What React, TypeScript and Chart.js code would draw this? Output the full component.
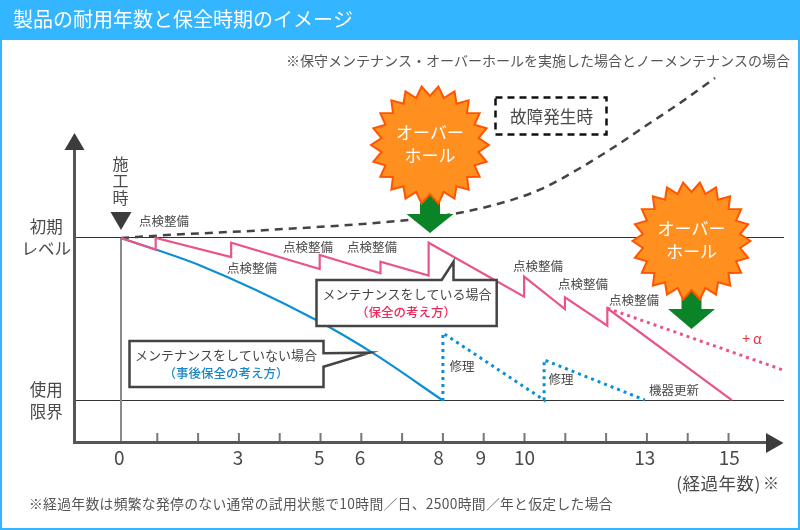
import React, { useEffect, useRef } from "react";
import { Chart, registerables } from "chart.js";

Chart.register(...registerables);

// ---- data (years elapsed, performance level: 100 = initial level, 0 = limit of use)
const maintainedYears = [0.11, 0.96, 0.96, 2.81, 2.81, 4.98, 4.98, 6.47, 6.47, 7.65, 7.65, 9.99, 9.99, 10.99, 10.99, 12.03, 12.03, 15.08];
const maintainedLevels = [100, 92.8, 100, 88.3, 97.1, 81, 89.6, 78.3, 85.5, 76.9, 97.1, 64, 76.3, 56.4, 63.6, 46.2, 56.9, 0.6];
const extendedYears = [12.03, 16.34];
const extendedLevels = [56.9, 19];
const unmaintainedYears = [0.11, 2.05, 4.87, 6.26, 8.0];
const unmaintainedLevels = [100, 83.1, 50, 29.8, 0.3];
const repairYears = [8, 8, 10.48, 10.48, 12.95];
const repairLevels = [0, 41.7, 0.6, 25.2, 0.6];
const failureYears = [0.11, 1.23, 3.69, 6.95, 8.25, 9.64, 10.45, 11.28, 12.27, 13, 13.74, 14.67];
const failureLevels = [100, 101.8, 104.9, 110.6, 114.7, 123, 130.5, 141.7, 157, 169.3, 181.6, 198.2];
const startYear = [0.11, 0.11];
const startLevel = [100, -25.7];
const xTickLabels = ["0", "3", "5", "6", "8", "9", "10", "13", "15"];
const xTickValues = [0.07, 2.98, 4.97, 5.97, 7.89, 8.93, 10, 12.95, 15.02];
const minorTickYears = [1, 2, 3, 4, 5, 6, 7, 8, 9, 10, 11, 12, 13, 14, 15];
const yTickValues = [0, 100];
const yTickLabels = [["使用", "限界"], ["初期", "レベル"]];

const toPoints = (xs: number[], ys: number[]) => xs.map((x, i) => ({ x, y: ys[i] }));

// ---- styles and decoration layout
const FONT = '"Noto Sans CJK JP", "Noto Sans", sans-serif';
const BAND = "#33b5ff";
const DARK = "#3c3c3c";
const AXIS = "#555555";
const TEXT = "#4a4a4a";
const PINK = "#ea5588";
const BLUE = "#0a8fd6";

const inspectionLabels: [string, number, number][] = [
  ["点検整備", 164, 221], ["点検整備", 308, 247], ["点検整備", 372, 247], ["点検整備", 252, 268],
  ["点検整備", 538, 266], ["点検整備", 583, 284], ["点検整備", 634, 300],
  ["修理", 462, 366], ["修理", 561, 379], ["機器更新", 674, 390],
];

function text(ctx: CanvasRenderingContext2D, s: string, x: number, y: number, size: number, color: string, align: CanvasTextAlign = "center", weight = "normal") {
  ctx.font = `${weight} ${size}px ${FONT}`;
  ctx.fillStyle = color;
  ctx.textAlign = align;
  ctx.textBaseline = "middle";
  ctx.fillText(s, x, y);
}

function drawStar(ctx: CanvasRenderingContext2D, cx: number, cy: number, label: string[]) {
  const n = 22, R = 59, r = 49;
  ctx.beginPath();
  for (let i = 0; i < n * 2; i++) {
    const a = -Math.PI / 2 + (i * Math.PI) / n;
    const rad = i % 2 === 0 ? r : R;
    const px = cx + rad * Math.cos(a);
    const py = cy + rad * Math.sin(a);
    if (i === 0) ctx.moveTo(px, py);
    else ctx.lineTo(px, py);
  }
  ctx.closePath();
  ctx.fillStyle = "#ff9020";
  ctx.fill();
  ctx.strokeStyle = "#ff5500";
  ctx.lineWidth = 2;
  ctx.lineJoin = "miter";
  ctx.stroke();
  text(ctx, label[0], cx, cy - 12, 17, "#ffffff");
  text(ctx, label[1], cx, cy + 11, 17, "#ffffff");
}

function drawDownArrow(ctx: CanvasRenderingContext2D, cx: number, top: number, neck: number, tip: number) {
  ctx.beginPath();
  ctx.moveTo(cx - 10, top);
  ctx.lineTo(cx + 10, top);
  ctx.lineTo(cx + 10, neck);
  ctx.lineTo(cx + 23.5, neck);
  ctx.lineTo(cx, tip);
  ctx.lineTo(cx - 23.5, neck);
  ctx.lineTo(cx - 10, neck);
  ctx.closePath();
  ctx.fillStyle = "#0b8428";
  ctx.fill();
}

function poly(ctx: CanvasRenderingContext2D, pts: number[][]) {
  ctx.beginPath();
  pts.forEach((p, i) => (i === 0 ? ctx.moveTo(p[0], p[1]) : ctx.lineTo(p[0], p[1])));
  ctx.closePath();
}

function triangle(ctx: CanvasRenderingContext2D, pts: number[][]) {
  poly(ctx, pts);
  ctx.fillStyle = DARK;
  ctx.fill();
}

const decoration = {
  id: "decoration",
  beforeDatasetsDraw(chart: any) {
    const ctx: CanvasRenderingContext2D = chart.ctx;
    const x = chart.scales.x;
    const base = chart.chartArea.bottom;
    ctx.save();
    // minor tick marks rising from the time axis
    ctx.strokeStyle = "#777777";
    ctx.lineWidth = 2;
    minorTickYears.forEach((v) => {
      const px = x.getPixelForValue(v);
      ctx.beginPath();
      ctx.moveTo(px, base);
      ctx.lineTo(px, base - 10);
      ctx.stroke();
    });
    ctx.restore();
  },
  afterDatasetsDraw(chart: any) {
    const ctx: CanvasRenderingContext2D = chart.ctx;
    const { chartArea } = chart;
    const axisX = chartArea.left + 0.5;
    const axisY = chartArea.bottom - 0.5;
    ctx.save();

    // axes and arrow heads
    ctx.strokeStyle = AXIS;
    ctx.lineWidth = 3;
    ctx.lineJoin = "miter";
    ctx.beginPath();
    ctx.moveTo(axisX, 148);
    ctx.lineTo(axisX, axisY);
    ctx.lineTo(768, axisY);
    ctx.stroke();
    triangle(ctx, [[74.5, 133], [84.5, 150], [64.5, 150]]);
    triangle(ctx, [[783.5, 443], [766, 433], [766, 453]]);

    // start marker
    triangle(ctx, [[110.5, 212], [131.5, 212], [121, 230]]);
    ["施", "工", "時"].forEach((c, i) => text(ctx, c, 120.5, 164 + i * 17, 16, TEXT));

    // green arrows, then bursts
    drawDownArrow(ctx, 430, 190, 214, 233);
    drawDownArrow(ctx, 691.5, 285, 309, 329);
    drawStar(ctx, 430, 145, ["オーバー", "ホール"]);
    drawStar(ctx, 691.5, 241, ["オーバー", "ホール"]);

    // dashed box
    ctx.setLineDash([7, 5]);
    ctx.strokeStyle = "#111111";
    ctx.lineWidth = 2.5;
    ctx.strokeRect(495.5, 97.5, 111, 37);
    ctx.setLineDash([]);
    text(ctx, "故障発生時", 551.5, 117, 16.6, TEXT);

    // call-outs
    ctx.lineWidth = 2.5;
    ctx.strokeStyle = "#444444";
    poly(ctx, [[316.5, 280], [441.7, 280], [453.5, 261.7], [453.5, 280], [496.7, 280], [496.7, 326], [316.5, 326]]);
    ctx.fillStyle = "#ffffff";
    ctx.fill();
    ctx.stroke();
    text(ctx, "メンテナンスをしている場合", 407, 294, 13, "#444444");
    text(ctx, "（保全の考え方）", 406, 312, 12.5, "#f0285a", "center", "500");

    poly(ctx, [[129.5, 341], [323.5, 341], [323.5, 353.3], [370, 352.7], [323.5, 366.7], [323.5, 387], [129.5, 387]]);
    ctx.fillStyle = "#ffffff";
    ctx.fill();
    ctx.stroke();
    text(ctx, "メンテナンスをしていない場合", 226, 355, 13, "#444444");
    text(ctx, "（事後保全の考え方）", 226, 373, 12.5, "#1a86c8", "center", "500");

    // small labels
    inspectionLabels.forEach(([s, px, py]) => text(ctx, s, px, py, 12.5, TEXT));
    text(ctx, "+ α", 752, 339, 14, "#f03040");

    // page frame, title and notes
    ctx.fillStyle = BAND;
    ctx.fillRect(0, 0, 800, 40);
    ctx.fillRect(0, 0, 2, 530);
    ctx.fillRect(798, 0, 2, 530);
    ctx.fillRect(0, 528, 800, 2);
    text(ctx, "製品の耐用年数と保全時期のイメージ", 13, 19, 20, "#ffffff", "left");
    text(ctx, "※保守メンテナンス・オーバーホールを実施した場合とノーメンテナンスの場合", 790, 61, 14, "#555555", "right");
    (ctx as any).letterSpacing = "0.5px";
    text(ctx, "(経過年数)", 761, 483, 17.5, TEXT, "right");
    (ctx as any).letterSpacing = "0px";
    text(ctx, "※", 779, 483, 16, TEXT, "right");
    (ctx as any).letterSpacing = "0.31px";
    text(ctx, "※経過年数は頻繁な発停のない通常の試用状態で10時間／日、2500時間／年と仮定した場合", 29, 504, 13.8, "#555555", "left");
    (ctx as any).letterSpacing = "0px";
    ctx.restore();
  },
};

export default function App() {
  const ref = useRef<HTMLCanvasElement>(null);
  useEffect(() => {
    document.body.style.margin = "0";
    document.body.style.background = "#ffffff";
    const line = (label: string, xs: number[], ys: number[], color: string, width: number, extra: object = {}) => ({
      label,
      data: toPoints(xs, ys),
      borderColor: color,
      borderWidth: width,
      pointRadius: 0,
      showLine: true,
      fill: false,
      ...extra,
    });
    const chart = new Chart(ref.current as HTMLCanvasElement, {
      type: "scatter",
      data: {
        datasets: [
          line("メンテナンスをしている場合", maintainedYears, maintainedLevels, PINK, 2.2),
          line("オーバーホール後", extendedYears, extendedLevels, PINK, 3, { borderDash: [3, 4] }),
          line("メンテナンスをしていない場合", unmaintainedYears, unmaintainedLevels, BLUE, 2.2, { cubicInterpolationMode: "monotone" }),
          line("修理", repairYears, repairLevels, BLUE, 3, { borderDash: [3, 4] }),
          line("故障発生時", failureYears, failureLevels, "#444444", 2.5, { borderDash: [8, 6], cubicInterpolationMode: "monotone" }),
          line("施工時", startYear, startLevel, "#8a8a8a", 2),
        ] as any,
      },
      options: {
        animation: false,
        responsive: false,
        devicePixelRatio: 1,
        layout: { padding: { left: 20, right: 16, top: 41, bottom: 0 } },
        plugins: { legend: { display: false }, tooltip: { enabled: false } },
        scales: {
          x: {
            type: "linear",
            min: -1.0417,
            max: 16.36,
            grid: { display: false, drawTicks: false },
            border: { display: false },
            ticks: {
              autoSkip: false,
              maxRotation: 0,
              padding: 3,
              color: "#4a4a4a",
              font: { family: FONT, size: 19 },
              callback: (_v: any, i: number) => xTickLabels[i],
            },
            afterBuildTicks: (s: any) => {
              s.ticks = xTickValues.map((value) => ({ value }));
            },
            afterFit: (s: any) => {
              s.height = 87;
            },
          },
          y: {
            type: "linear",
            min: -25.77,
            max: 220.86,
            grid: { color: "#333333", lineWidth: 1, drawTicks: false },
            border: { display: false },
            ticks: {
              crossAlign: "center",
              padding: 3,
              color: "#4a4a4a",
              font: { family: FONT, size: 16.5, lineHeight: 1.33 },
              callback: (_v: any, i: number) => yTickLabels[i],
            },
            afterBuildTicks: (s: any) => {
              s.ticks = yTickValues.map((value) => ({ value }));
            },
            afterFit: (s: any) => {
              s.width = 54;
            },
          },
        },
      } as any,
      plugins: [decoration],
    });
    return () => chart.destroy();
  }, []);
  return <canvas ref={ref} width={800} height={530} style={{ display: "block" }} />;
}
